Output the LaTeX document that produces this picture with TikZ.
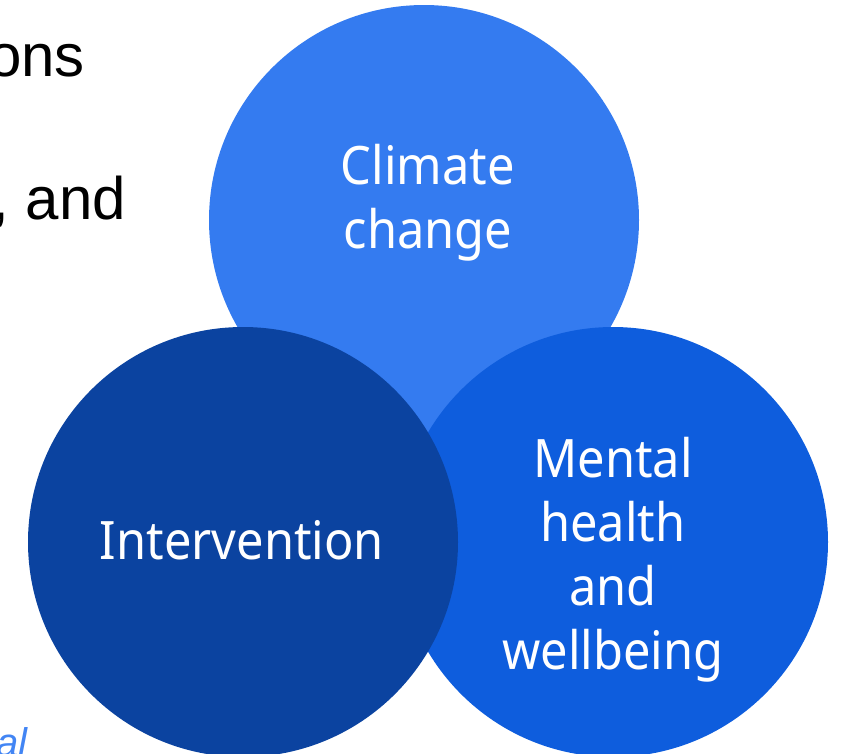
\documentclass[tikz,border=0pt]{standalone}
\usepackage{fontspec}
\setmainfont{Liberation Sans}
\newfontfamily\vennfont[FakeStretch=0.92]{Noto Sans}
\usepackage{tikz}
\definecolor{venn_top}{RGB}{52, 123, 240}
\definecolor{venn_right}{RGB}{14, 93, 221}
\definecolor{venn_left}{RGB}{11, 67, 160}
\definecolor{note_blue}{RGB}{66, 133, 244}
\tikzstyle{vc}=[circle,draw=none,inner sep=0pt,minimum size=430pt]
\tikzstyle{vl}=[text=white,align=center,inner sep=0pt,
  font=\vennfont\fontsize{53}{64}\selectfont]
\tikzstyle{bt}=[inner sep=0pt,font=\fontsize{60}{72}\selectfont]
\tikzstyle{none}=[]

\begin{document}
\begin{tikzpicture}[x=1pt,y=-1pt]
        \useasboundingbox (0, 0) rectangle (843, 753);
        \clip (0, 0) rectangle (843, 753);
        % text running in from the left
        \node [style=bt, anchor=base east] (0) at (85, 76) {ons};
        \node [style=bt, anchor=base east] (1) at (126, 219) {, and};
        \node [style=none, inner sep=0pt, anchor=base east, text=note_blue,
          font=\itshape\fontsize{40}{48}\selectfont] (2) at (28, 756) {al};
        % the three circles, left one on top
        \node [style=vc, fill=venn_top] (3) at (424, 220) {};
        \node [style=vc, fill=venn_right] (4) at (613, 542) {};
        \node [style=vc, fill=venn_left] (5) at (243, 542) {};
        \node [style=vl] (6) at (428, 203) {Climate\\change};
        \node [style=vl] (7) at (242, 540) {Intervention};
        \node [style=vl] (8) at (613, 560) {Mental\\health\\and\\wellbeing};
    \end{tikzpicture}
\end{document}
